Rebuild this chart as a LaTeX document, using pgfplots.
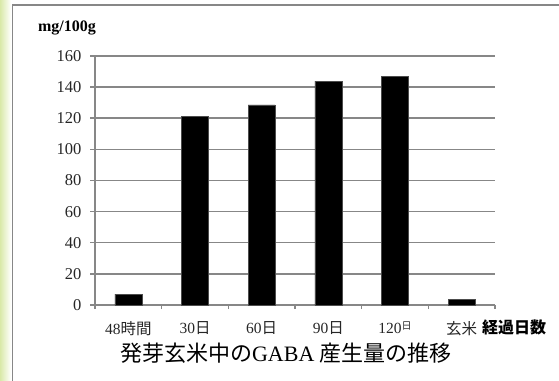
\documentclass[border=0pt]{standalone}
\usepackage{fontspec}
\setmainfont{Liberation Serif}
\newfontfamily\jp{Noto Sans CJK JP}
\usepackage{pgfplots}
\pgfplotsset{compat=1.18}
\definecolor{gridgray}{HTML}{878787}
\definecolor{stripe}{HTML}{D9E9A8}
\begin{document}
\begin{tikzpicture}[x=1pt,y=1pt]
\useasboundingbox (0,0) rectangle (559,380);
\shade[left color=stripe, right color=white] (0,0) rectangle (11,380);
\draw[gridgray, line width=1.5pt] (12.5,-5) -- (12.5,375) -- (565,375);
\begin{axis}[
  at={(95pt,75pt)}, anchor=south west,
  scale only axis, width=400pt, height=249pt,
  xmin=-0.5, xmax=5.5, ymin=0, ymax=160,
  axis x line=bottom, axis y line=left,
  axis line style={-, gridgray, line width=1.5pt},
  ytick={0,20,...,160},
  ymajorgrids, grid style={gridgray, line width=1.5pt},
  xtick={0,...,5},
  xticklabels={48{\jp 時間},30{\jp 日},60{\jp 日},90{\jp 日},120\raisebox{0.3em}{\jp\fontsize{10}{10}\selectfont 日},{\jp 玄米}},
  minor xtick={-0.5,0.5,...,5.5},
  tick align=outside,
  major x tick style={draw=none},
  minor tick length=4pt,
  major tick length=5pt,
  tick style={gridgray, line width=1.5pt},
  /pgf/number format/assume math mode=true,
  xticklabel style={font=\fontsize{15.5}{15.5}\selectfont, text=black!85, yshift=-8pt},
  yticklabel style={font=\fontsize{16.5}{16.5}\selectfont, text=black!85, xshift=-5pt},
  ybar, bar width=27pt,
  clip=false,
]
\addplot[fill=black, draw=black!70, line width=0.6pt] coordinates {(0,7) (1,121) (2,128.6) (3,143.8) (4,147) (5,3.7)};
\end{axis}
\node[font=\bfseries\fontsize{16}{16}\selectfont] at (67,352) {mg/100g};
\node[font=\jp\bfseries\fontsize{16}{16}\selectfont] at (514,53) {経過日数};
\node[font=\fontsize{22}{22}\selectfont] at (286,27) {{\jp 発芽玄米中の}GABA {\jp 産生量の推移}};
\end{tikzpicture}
\end{document}
